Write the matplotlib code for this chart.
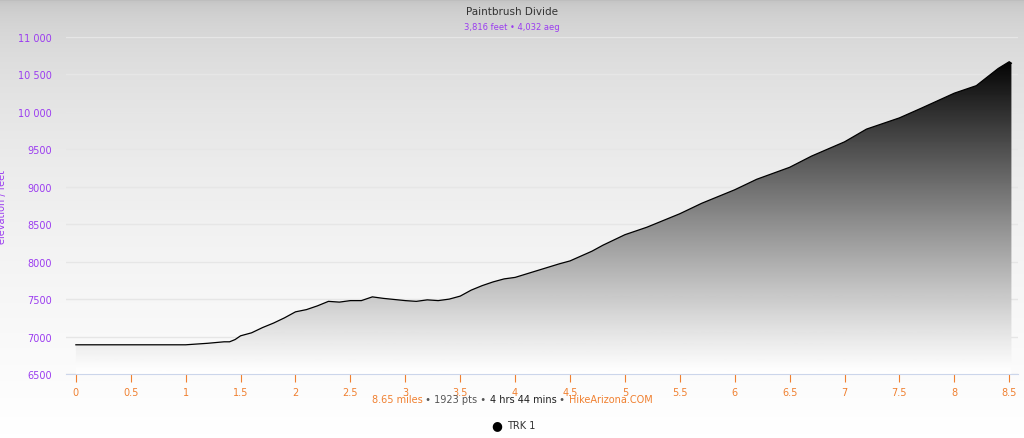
import numpy as np
import matplotlib.pyplot as plt
from matplotlib.patches import Polygon
from matplotlib.colors import LinearSegmentedColormap

miles = [0, 0.5, 1.0, 1.2, 1.35, 1.4, 1.45, 1.5, 1.6, 1.7, 1.8, 1.9, 2.0, 2.1, 2.2, 2.3,
         2.4, 2.5, 2.6, 2.7, 2.8, 3.0, 3.1, 3.2, 3.3, 3.4, 3.5, 3.6, 3.7, 3.8, 3.9,
         4.0, 4.2, 4.4, 4.5, 4.7, 4.8, 5.0, 5.2, 5.5, 5.7, 6.0, 6.2, 6.5, 6.7, 7.0,
         7.2, 7.5, 7.7, 8.0, 8.2, 8.4, 8.5, 8.52]
elev = [6890, 6890, 6890, 6910, 6930, 6930, 6960, 7010, 7050, 7120, 7180, 7250, 7330,
        7360, 7410, 7470, 7460, 7480, 7480, 7530, 7510, 7480, 7470, 7490, 7480, 7500,
        7540, 7620, 7680, 7730, 7770, 7790, 7880, 7970, 8010, 8140, 8220, 8360, 8460,
        8640, 8780, 8960, 9100, 9260, 9410, 9600, 9770, 9920, 10050, 10250, 10350,
        10580, 10670, 10650]
xticks = [0, 0.5, 1, 1.5, 2, 2.5, 3, 3.5, 4, 4.5, 5, 5.5, 6, 6.5, 7, 7.5, 8, 8.5]
yticks = [6500, 7000, 7500, 8000, 8500, 9000, 9500, 10000, 10500, 11000]

purple = '#9b3cf0'
orange = '#f08030'

fig = plt.figure(figsize=(10.24, 4.39), dpi=100)
bg = fig.add_axes([0, 0, 1, 1], zorder=-10)
grad = np.linspace(0, 1, 256).reshape(-1, 1) ** 0.35
bg.imshow(grad, aspect='auto', cmap=LinearSegmentedColormap.from_list('bg', ['#bcbcbc', '#ffffff']),
          extent=[0, 1, 0, 1], origin='upper')
bg.axis('off')

ax = fig.add_axes([66 / 1024, 64 / 439, 952 / 1024, 337 / 439])
ax.patch.set_alpha(0)
ax.set_xlim(-0.09, 8.58)
ax.set_ylim(6500, 11000)

# vertical white-to-black fill under the profile
cmap = LinearSegmentedColormap.from_list('fill', ['#ffffff', '#000000'])
img = ax.imshow(np.linspace(0, 1, 256).reshape(-1, 1) ** 1.1, aspect='auto', cmap=cmap,
                extent=[-0.09, 8.58, 6500, 10720], origin='lower', zorder=1)
poly = Polygon(list(zip(miles, elev)) + [(miles[-1], 6500), (miles[0], 6500)],
               closed=True, facecolor='none', edgecolor='none')
ax.add_patch(poly)
img.set_clip_path(poly)
ax.plot(miles, elev, color='black', lw=0.9, zorder=2)

ax.set_xticks(xticks)
ax.set_xticklabels([f'{t:g}' for t in xticks])
ax.set_yticks(yticks)
ax.set_yticklabels([f'{t:,}'.replace(',', ' ') if t >= 10000 else str(t) for t in yticks])
ax.grid(axis='y', color='#e6e6e6', lw=1, zorder=0)
ax.set_axisbelow(True)
for s in ['top', 'right', 'left']:
    ax.spines[s].set_visible(False)
ax.spines['bottom'].set_color('#ccd6eb')
ax.tick_params(axis='x', colors=orange, labelsize=7, length=6, color=orange)
ax.tick_params(axis='y', colors=purple, labelsize=7, length=0, pad=10)
ax.set_ylabel('elevation / feet', color=purple, fontsize=7, labelpad=8)

fig.text(0.5, 0.985, 'Paintbrush Divide', ha='center', va='top', fontsize=7.5, color='#333333')
fig.text(0.5, 0.948, '3,816 feet • 4,032 aeg', ha='center', va='top', fontsize=6, color=purple)

# footer made of coloured pieces laid side by side
y = 1 - 400 / 439
parts = [('8.65 miles', orange), (' • 1923 pts • ', '#555555'), ('4 hrs 44 mins', '#222222'),
         (' • ', '#555555'), ('HikeArizona.COM', orange)]
fig.canvas.draw()
r = fig.canvas.get_renderer()
widths = []
texts = []
for s, c in parts:
    t = fig.text(0, y, s, color=c, fontsize=7, va='center')
    widths.append(t.get_window_extent(r).width)
    texts.append(t)
x0 = (1024 - sum(widths)) / 2
for t, w in zip(texts, widths):
    t.set_x(x0 / 1024)
    x0 += w

fig.text(497 / 1024, 1 - 426 / 439, '●', fontsize=9, color='black', ha='center', va='center')
fig.text(507 / 1024, 1 - 426 / 439, 'TRK 1', fontsize=7, color='#333333', va='center')

fig.savefig('out.png', dpi=100)
